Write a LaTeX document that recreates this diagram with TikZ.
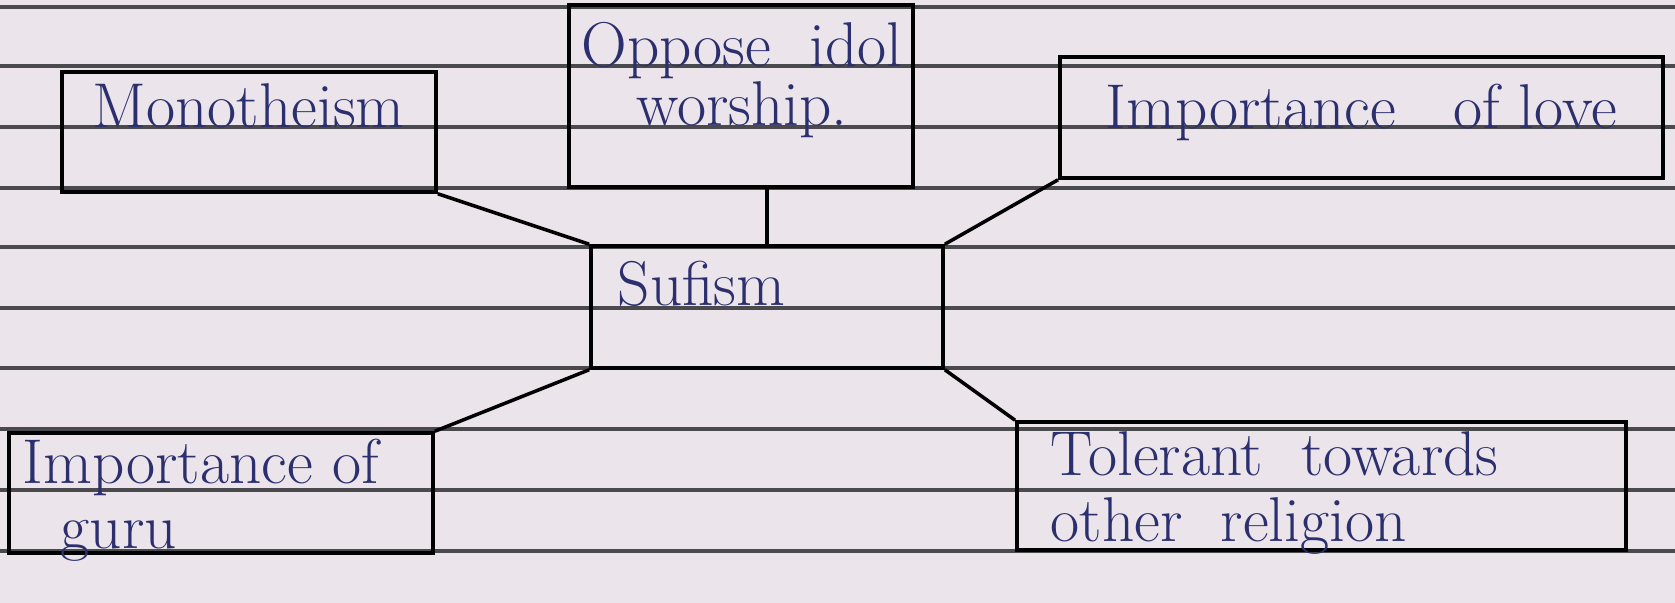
\documentclass[tikz,border=0pt]{standalone}
\usepackage{xcolor}
\definecolor{paper}{HTML}{EBE4EA}
\definecolor{rule}{HTML}{4A4A4E}
\definecolor{ink}{HTML}{2B2F6E}
\begin{document}
\begin{tikzpicture}[x=0.01cm,y=-0.01cm,
  box/.style={draw=black,line width=1pt,rectangle,inner sep=0pt},
  lbl/.style={text=ink,font=\fontsize{18}{17}\selectfont,inner sep=0pt,align=center},
  lbltwo/.style={text=ink,font=\fontsize{18}{18.5}\selectfont,inner sep=0pt},
  link/.style={draw=black,line width=1pt},
  ruled/.style={draw=rule,line width=0.9pt}]
\fill[paper] (0,0) rectangle (1675,603);
\useasboundingbox (0,0) rectangle (1675,603);
% ruled lines
\foreach \yy in {7,66,127,188,247,308,368,429,490,551}
  \draw[ruled] (0,\yy) -- (1675,\yy);
% boxes
\node[box,minimum width=3.74cm,minimum height=1.20cm] (mono) at (249,132) {};
\node[box,minimum width=3.44cm,minimum height=1.82cm] (idol) at (741,96) {};
\node[box,minimum width=6.03cm,minimum height=1.21cm] (love) at (1361.5,117.5) {};
\node[box,minimum width=3.52cm,minimum height=1.22cm] (sufi) at (767,307) {};
\node[box,minimum width=4.24cm,minimum height=1.20cm] (guru) at (221,493) {};
\node[box,minimum width=6.09cm,minimum height=1.28cm] (tol) at (1321.5,486) {};
% labels
\node[lbl,anchor=west] (monot) at (92,106) {Monotheism};
\node[lbl] (idolt) at (742,80) {Oppose \ idol\\worship.};
\node[lbl,anchor=west] (lovet) at (1105,112) {Importance \ \ of love};
\node[lbl,anchor=west] (sufit) at (617,284) {Sufism};
\node[lbltwo,anchor=west,align=left] (gurut) at (22,500) {Importance of\\\ \ guru};
\node[lbltwo,anchor=west,align=left] (tolt) at (1050,493) {Tolerant \ towards\\other \ religion};
% connectors
\draw[link] (mono.south east) -- (sufi.north west);
\draw[link] (idol.south -| sufi.north) -- (sufi.north);
\draw[link] (love.south west) -- (sufi.north east);
\draw[link] (sufi.south west) -- (guru.north east);
\draw[link] (sufi.south east) -- (tol.north west);
\end{tikzpicture}
\end{document}
